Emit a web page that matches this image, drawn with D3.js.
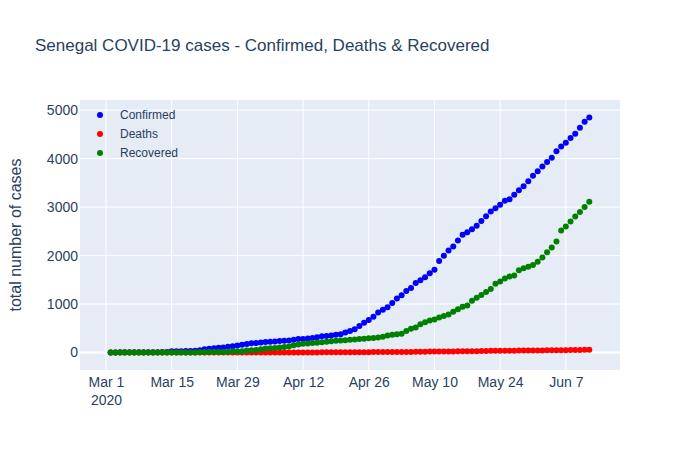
<!DOCTYPE html>
<html lang="en">
<head>
    <meta charset="utf-8">
    <title>Senegal COVID-19 cases</title>
    <script src="https://d3js.org/d3.v7.min.js"></script>
    <style>
        body { margin: 0; background: #fff; }
        text { font-family: "Liberation Sans", Arial, sans-serif; fill: #2a3f5f; }
    </style>
</head>
<body>
<svg width="700" height="450"></svg>
<script>
    // daily values, one per day starting 2020-03-02
    var firstDay = "2020-03-02";

    var confirmed = [
        1,2,4,4,4,4,4,4,4,4,4,10,10,24,24,26,31,31,38,47,67,79,86,99,105,119,130,142,162,175,
        190,195,207,219,222,226,237,244,250,265,278,280,291,299,314,335,342,350,367,377,412,442,479,545,614,671,736,823,882,933,
        1024,1115,1182,1271,1329,1433,1492,1551,1634,1709,1886,1995,2105,2189,2310,2429,2480,2544,2617,2714,2812,2909,2976,3047,3130,3161,3253,3348,3429,3535,3645,
        3739,3836,3932,4021,4155,4249,4328,4427,4515,4640,4759,4851
    ];
    var deaths = [
        0,0,0,0,0,0,0,0,0,0,0,0,0,0,0,0,0,0,0,0,0,0,0,0,0,0,0,0,0,1,
        1,1,1,2,2,2,2,2,2,2,2,2,2,2,2,3,3,3,5,5,5,6,6,7,7,7,9,9,9,9,
        9,9,10,10,11,13,17,18,19,19,19,19,21,23,25,25,25,26,28,30,30,34,35,35,36,36,38,39,40,41,42,
        43,43,45,45,47,48,49,50,52,54,55,58
    ];
    var recovered = [
        0,0,0,0,0,0,0,0,0,0,0,2,2,2,2,2,2,2,2,5,5,8,8,8,9,11,27,27,27,40,
        45,53,66,82,90,92,104,113,125,150,165,180,188,195,203,212,220,230,240,248,255,262,270,278,285,295,300,310,323,350,
        364,378,385,446,488,515,584,625,659,683,724,751,786,841,890,944,972,1069,1131,1186,1248,1311,1421,1463,1525,1567,1587,1698,1739,1767,1808,
        1870,1959,2070,2166,2290,2518,2601,2704,2808,2898,3002,3112
    ];

    var seriesNames = ["Confirmed", "Deaths", "Recovered"];
    var seriesColors = ["blue", "red", "green"];

    var xTicks = ["2020-03-01","2020-03-15","2020-03-29","2020-04-12","2020-04-26","2020-05-10","2020-05-24","2020-06-07"];
    var xTickLabels = ["Mar 1","Mar 15","Mar 29","Apr 12","Apr 26","May 10","May 24","Jun 7"];
    var yTicks = [0,1000,2000,3000,4000,5000];

    var parse = d3.timeParse("%Y-%m-%d");
    var start = parse(firstDay);
    var dates = confirmed.map(function(d,i){ return d3.timeDay.offset(start, i); });

    var marge = {top:100, bottom:80, left:80, right:80};
    var width = 700 - marge.left - marge.right;
    var height = 450 - marge.top - marge.bottom;

    var ext = d3.extent(dates);
    var xScale = d3.scaleTime()
        .domain([d3.timeHour.offset(ext[0], -157), d3.timeHour.offset(ext[1], 157)])
        .range([0, width]);
    var yScale = d3.scaleLinear()
        .domain([-361, 5210])
        .range([height, 0]);

    var svg = d3.select("svg");

    svg.append("text")
        .attr("x", 35).attr("y", 51)
        .style("font-size", "17px")
        .text("Senegal COVID-19 cases - Confirmed, Deaths & Recovered");

    var g = svg.append("g")
        .attr("transform", "translate(" + marge.left + "," + marge.top + ")");

    g.append("rect")
        .attr("width", width).attr("height", height)
        .attr("fill", "#e5ecf6");

    // grid
    g.selectAll(".vgrid")
        .data(xTicks)
        .enter().append("line")
        .attr("x1", function(d){ return xScale(parse(d)); })
        .attr("x2", function(d){ return xScale(parse(d)); })
        .attr("y1", 0).attr("y2", height)
        .attr("stroke", "#fff").attr("stroke-width", 1);

    g.selectAll(".hgrid")
        .data(yTicks)
        .enter().append("line")
        .attr("x1", 0).attr("x2", width)
        .attr("y1", function(d){ return yScale(d); })
        .attr("y2", function(d){ return yScale(d); })
        .attr("stroke", "#fff")
        .attr("stroke-width", function(d){ return d === 0 ? 2 : 1; });

    // axes
    var xAxis = d3.axisBottom(xScale)
        .tickValues(xTicks.map(parse))
        .tickSize(0)
        .tickPadding(11)
        .tickFormat(function(d,i){ return xTickLabels[i]; });
    var xg = g.append("g")
        .attr("transform", "translate(0," + height + ")")
        .call(xAxis);
    xg.select(".domain").remove();
    xg.selectAll("text")
        .style("font-size", "14px")
        .attr("fill", "#2a3f5f")
        .attr("dy", "0.4em");
    xg.selectAll(".tick").filter(function(d,i){ return i === 0; })
        .append("text")
        .attr("y", 11).attr("dy", "1.68em")
        .attr("fill", "#2a3f5f")
        .style("font-size", "14px")
        .text("2020");

    var yAxis = d3.axisLeft(yScale)
        .tickValues(yTicks)
        .tickSize(0)
        .tickPadding(2)
        .tickFormat(d3.format("d"));
    var yg = g.append("g").call(yAxis);
    yg.select(".domain").remove();
    yg.selectAll("text")
        .style("font-size", "14px")
        .attr("fill", "#2a3f5f");

    svg.append("text")
        .attr("transform", "translate(21," + (marge.top + height / 2) + ") rotate(-90)")
        .attr("text-anchor", "middle")
        .style("font-size", "16px")
        .text("total number of cases");

    // points
    var allSeries = [confirmed, deaths, recovered];
    allSeries.forEach(function(values, k){
        g.append("g").selectAll("circle")
            .data(values)
            .enter().append("circle")
            .attr("cx", function(d,i){ return xScale(dates[i]); })
            .attr("cy", function(d){ return yScale(d); })
            .attr("r", 3)
            .attr("fill", seriesColors[k]);
    });

    // legend
    var legend = svg.append("g")
        .attr("transform", "translate(100,115)");
    var items = legend.selectAll("g")
        .data(seriesNames)
        .enter().append("g")
        .attr("transform", function(d,i){ return "translate(0," + (i * 19) + ")"; });
    items.append("circle")
        .attr("r", 3)
        .attr("fill", function(d,i){ return seriesColors[i]; });
    items.append("text")
        .attr("x", 20).attr("dy", "0.35em")
        .style("font-size", "12px")
        .text(function(d){ return d; });
</script>
</body>
</html>
